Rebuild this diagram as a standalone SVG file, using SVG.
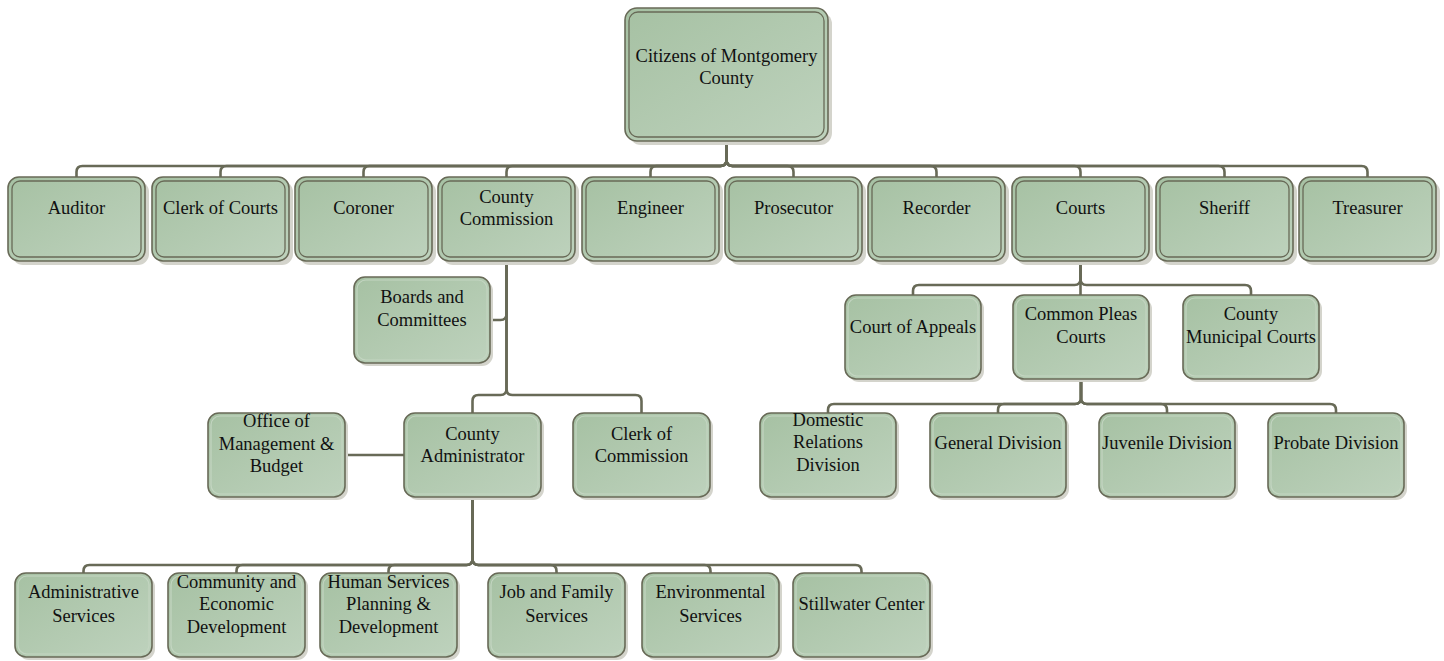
<svg xmlns="http://www.w3.org/2000/svg" width="1444" height="661" viewBox="0 0 1444 661">
<defs>
<linearGradient id="g" x1="0" y1="0" x2="1" y2="1">
<stop offset="0" stop-color="#a6c1a3"/>
<stop offset="1" stop-color="#bed2bd"/>
</linearGradient>
<style>
.sh{fill:#d4d4cc}
.bx{fill:url(#g);stroke:#686a57;stroke-width:1.6}
.in{fill:none;stroke:#686a57;stroke-width:1.3}
.hl{fill:none;stroke:#c3d5c1;stroke-width:1.2}
.c{fill:none;stroke:#686a57;stroke-width:2.6}
text{font-family:"Liberation Serif","Times New Roman",serif;font-size:18.5px;fill:#111;text-anchor:middle}
</style>
</defs>
<rect width="1444" height="661" fill="#fff"/>
<g id="connectors">
<path class="c" d="M726.5,141 V160 Q726.5,166 720.5,166 H82.5 Q76.5,166 76.5,172 V177"/>
<path class="c" d="M726.5,141 V160 Q726.5,166 720.5,166 H226.5 Q220.5,166 220.5,172 V177"/>
<path class="c" d="M726.5,141 V160 Q726.5,166 720.5,166 H369.5 Q363.5,166 363.5,172 V177"/>
<path class="c" d="M726.5,141 V160 Q726.5,166 720.5,166 H512.5 Q506.5,166 506.5,172 V177"/>
<path class="c" d="M726.5,141 V160 Q726.5,166 720.5,166 H656.5 Q650.5,166 650.5,172 V177"/>
<path class="c" d="M726.5,141 V160 Q726.5,166 732.5,166 H787.5 Q793.5,166 793.5,172 V177"/>
<path class="c" d="M726.5,141 V160 Q726.5,166 732.5,166 H930.5 Q936.5,166 936.5,172 V177"/>
<path class="c" d="M726.5,141 V160 Q726.5,166 732.5,166 H1074.5 Q1080.5,166 1080.5,172 V177"/>
<path class="c" d="M726.5,141 V160 Q726.5,166 732.5,166 H1218.5 Q1224.5,166 1224.5,172 V177"/>
<path class="c" d="M726.5,141 V160 Q726.5,166 732.5,166 H1361.5 Q1367.5,166 1367.5,172 V177"/>
<path class="c" d="M506.5,261 V314 Q506.5,320 500.5,320 H490"/>
<path class="c" d="M506.5,261 V389 Q506.5,395 500.5,395 H478.5 Q472.5,395 472.5,401 V413"/>
<path class="c" d="M506.5,261 V389 Q506.5,395 512.5,395 H635.5 Q641.5,395 641.5,401 V413"/>
<path class="c" d="M345,455 H404"/>
<path class="c" d="M472.5,497 V559 Q472.5,565 466.5,565 H89.5 Q83.5,565 83.5,571 V573"/>
<path class="c" d="M472.5,497 V559 Q472.5,565 466.5,565 H242.5 Q236.5,565 236.5,571 V573"/>
<path class="c" d="M472.5,497 V559 Q472.5,565 466.5,565 H394.5 Q388.5,565 388.5,571 V573"/>
<path class="c" d="M472.5,497 V559 Q472.5,565 478.5,565 H550.5 Q556.5,565 556.5,571 V573"/>
<path class="c" d="M472.5,497 V559 Q472.5,565 478.5,565 H704.5 Q710.5,565 710.5,571 V573"/>
<path class="c" d="M472.5,497 V559 Q472.5,565 478.5,565 H855.5 Q861.5,565 861.5,571 V573"/>
<path class="c" d="M1080.5,261 V279 Q1080.5,285 1074.5,285 H919 Q913,285 913,291 V295"/>
<path class="c" d="M1080.5,261 V295"/>
<path class="c" d="M1080.5,261 V279 Q1080.5,285 1086.5,285 H1245 Q1251,285 1251,291 V295"/>
<path class="c" d="M1081,379 V398 Q1081,404 1075,404 H834 Q828,404 828,410 V413"/>
<path class="c" d="M1081,379 V398 Q1081,404 1075,404 H1004 Q998,404 998,410 V413"/>
<path class="c" d="M1081,379 V398 Q1081,404 1087,404 H1161 Q1167,404 1167,410 V413"/>
<path class="c" d="M1081,379 V398 Q1081,404 1087,404 H1330 Q1336,404 1336,410 V413"/>
</g>
<g id="citizens">
<rect class="sh" x="629" y="12" width="203" height="133" rx="12"/>
<rect class="bx" x="625" y="8" width="203" height="133" rx="12"/>
<rect class="in" x="629" y="12" width="195" height="125" rx="9"/>
<text x="726.5" y="62">Citizens of Montgomery</text>
<text x="726.5" y="84">County</text>
</g>
<g id="auditor">
<rect class="sh" x="12" y="181" width="137" height="84" rx="11"/>
<rect class="bx" x="8" y="177" width="137" height="84" rx="11"/>
<rect class="in" x="12" y="181" width="129" height="76" rx="8"/>
<text x="76.5" y="214">Auditor</text>
</g>
<g id="clerk-of-courts">
<rect class="sh" x="156" y="181" width="137" height="84" rx="11"/>
<rect class="bx" x="152" y="177" width="137" height="84" rx="11"/>
<rect class="in" x="156" y="181" width="129" height="76" rx="8"/>
<text x="220.5" y="214">Clerk of Courts</text>
</g>
<g id="coroner">
<rect class="sh" x="299" y="181" width="137" height="84" rx="11"/>
<rect class="bx" x="295" y="177" width="137" height="84" rx="11"/>
<rect class="in" x="299" y="181" width="129" height="76" rx="8"/>
<text x="363.5" y="214">Coroner</text>
</g>
<g id="county-commission">
<rect class="sh" x="442" y="181" width="137" height="84" rx="11"/>
<rect class="bx" x="438" y="177" width="137" height="84" rx="11"/>
<rect class="in" x="442" y="181" width="129" height="76" rx="8"/>
<text x="506.5" y="203">County</text>
<text x="506.5" y="225">Commission</text>
</g>
<g id="engineer">
<rect class="sh" x="586" y="181" width="137" height="84" rx="11"/>
<rect class="bx" x="582" y="177" width="137" height="84" rx="11"/>
<rect class="in" x="586" y="181" width="129" height="76" rx="8"/>
<text x="650.5" y="214">Engineer</text>
</g>
<g id="prosecutor">
<rect class="sh" x="729" y="181" width="137" height="84" rx="11"/>
<rect class="bx" x="725" y="177" width="137" height="84" rx="11"/>
<rect class="in" x="729" y="181" width="129" height="76" rx="8"/>
<text x="793.5" y="214">Prosecutor</text>
</g>
<g id="recorder">
<rect class="sh" x="872" y="181" width="137" height="84" rx="11"/>
<rect class="bx" x="868" y="177" width="137" height="84" rx="11"/>
<rect class="in" x="872" y="181" width="129" height="76" rx="8"/>
<text x="936.5" y="214">Recorder</text>
</g>
<g id="courts">
<rect class="sh" x="1016" y="181" width="137" height="84" rx="11"/>
<rect class="bx" x="1012" y="177" width="137" height="84" rx="11"/>
<rect class="in" x="1016" y="181" width="129" height="76" rx="8"/>
<text x="1080.5" y="214">Courts</text>
</g>
<g id="sheriff">
<rect class="sh" x="1160" y="181" width="137" height="84" rx="11"/>
<rect class="bx" x="1156" y="177" width="137" height="84" rx="11"/>
<rect class="in" x="1160" y="181" width="129" height="76" rx="8"/>
<text x="1224.5" y="214">Sheriff</text>
</g>
<g id="treasurer">
<rect class="sh" x="1303" y="181" width="137" height="84" rx="11"/>
<rect class="bx" x="1299" y="177" width="137" height="84" rx="11"/>
<rect class="in" x="1303" y="181" width="129" height="76" rx="8"/>
<text x="1367.5" y="214">Treasurer</text>
</g>
<g id="boards-and-committees">
<rect class="sh" x="357" y="280" width="136" height="86" rx="11"/>
<rect class="bx" x="354" y="277" width="136" height="86" rx="11"/>
<rect class="hl" x="357" y="280" width="130" height="80" rx="9"/>
<text x="422" y="303">Boards and</text>
<text x="422" y="326">Committees</text>
</g>
<g id="office-of-management-budget">
<rect class="sh" x="211" y="416" width="137" height="84" rx="11"/>
<rect class="bx" x="208" y="413" width="137" height="84" rx="11"/>
<rect class="hl" x="211" y="416" width="131" height="78" rx="9"/>
<text x="276.5" y="427">Office of</text>
<text x="276.5" y="450">Management &amp;</text>
<text x="276.5" y="472">Budget</text>
</g>
<g id="county-administrator">
<rect class="sh" x="407" y="416" width="137" height="84" rx="11"/>
<rect class="bx" x="404" y="413" width="137" height="84" rx="11"/>
<rect class="hl" x="407" y="416" width="131" height="78" rx="9"/>
<text x="472.5" y="440">County</text>
<text x="472.5" y="462">Administrator</text>
</g>
<g id="clerk-of-commission">
<rect class="sh" x="576" y="416" width="137" height="84" rx="11"/>
<rect class="bx" x="573" y="413" width="137" height="84" rx="11"/>
<rect class="hl" x="576" y="416" width="131" height="78" rx="9"/>
<text x="641.5" y="440">Clerk of</text>
<text x="641.5" y="462">Commission</text>
</g>
<g id="court-of-appeals">
<rect class="sh" x="848" y="298" width="136" height="84" rx="11"/>
<rect class="bx" x="845" y="295" width="136" height="84" rx="11"/>
<rect class="hl" x="848" y="298" width="130" height="78" rx="9"/>
<text x="913" y="333">Court of Appeals</text>
</g>
<g id="common-pleas-courts">
<rect class="sh" x="1016" y="298" width="136" height="84" rx="11"/>
<rect class="bx" x="1013" y="295" width="136" height="84" rx="11"/>
<rect class="hl" x="1016" y="298" width="130" height="78" rx="9"/>
<text x="1081" y="320">Common Pleas</text>
<text x="1081" y="343">Courts</text>
</g>
<g id="county-municipal-courts">
<rect class="sh" x="1186" y="298" width="136" height="84" rx="11"/>
<rect class="bx" x="1183" y="295" width="136" height="84" rx="11"/>
<rect class="hl" x="1186" y="298" width="130" height="78" rx="9"/>
<text x="1251" y="320">County</text>
<text x="1251" y="343">Municipal Courts</text>
</g>
<g id="domestic-relations-division">
<rect class="sh" x="763" y="416" width="136" height="84" rx="11"/>
<rect class="bx" x="760" y="413" width="136" height="84" rx="11"/>
<rect class="hl" x="763" y="416" width="130" height="78" rx="9"/>
<text x="828" y="426">Domestic</text>
<text x="828" y="448">Relations</text>
<text x="828" y="471">Division</text>
</g>
<g id="general-division">
<rect class="sh" x="933" y="416" width="136" height="84" rx="11"/>
<rect class="bx" x="930" y="413" width="136" height="84" rx="11"/>
<rect class="hl" x="933" y="416" width="130" height="78" rx="9"/>
<text x="998" y="449">General Division</text>
</g>
<g id="juvenile-division">
<rect class="sh" x="1102" y="416" width="136" height="84" rx="11"/>
<rect class="bx" x="1099" y="413" width="136" height="84" rx="11"/>
<rect class="hl" x="1102" y="416" width="130" height="78" rx="9"/>
<text x="1167" y="449">Juvenile Division</text>
</g>
<g id="probate-division">
<rect class="sh" x="1271" y="416" width="136" height="84" rx="11"/>
<rect class="bx" x="1268" y="413" width="136" height="84" rx="11"/>
<rect class="hl" x="1271" y="416" width="130" height="78" rx="9"/>
<text x="1336" y="449">Probate Division</text>
</g>
<g id="administrative-services">
<rect class="sh" x="18" y="576" width="137" height="84" rx="11"/>
<rect class="bx" x="15" y="573" width="137" height="84" rx="11"/>
<rect class="hl" x="18" y="576" width="131" height="78" rx="9"/>
<text x="83.5" y="598">Administrative</text>
<text x="83.5" y="622">Services</text>
</g>
<g id="community-and-economic-development">
<rect class="sh" x="171" y="576" width="137" height="84" rx="11"/>
<rect class="bx" x="168" y="573" width="137" height="84" rx="11"/>
<rect class="hl" x="171" y="576" width="131" height="78" rx="9"/>
<text x="236.5" y="588">Community and</text>
<text x="236.5" y="610">Economic</text>
<text x="236.5" y="633">Development</text>
</g>
<g id="human-services-planning-development">
<rect class="sh" x="323" y="576" width="137" height="84" rx="11"/>
<rect class="bx" x="320" y="573" width="137" height="84" rx="11"/>
<rect class="hl" x="323" y="576" width="131" height="78" rx="9"/>
<text x="388.5" y="588">Human Services</text>
<text x="388.5" y="610">Planning &amp;</text>
<text x="388.5" y="633">Development</text>
</g>
<g id="job-and-family-services">
<rect class="sh" x="491" y="576" width="137" height="84" rx="11"/>
<rect class="bx" x="488" y="573" width="137" height="84" rx="11"/>
<rect class="hl" x="491" y="576" width="131" height="78" rx="9"/>
<text x="556.5" y="598">Job and Family</text>
<text x="556.5" y="622">Services</text>
</g>
<g id="environmental-services">
<rect class="sh" x="645" y="576" width="137" height="84" rx="11"/>
<rect class="bx" x="642" y="573" width="137" height="84" rx="11"/>
<rect class="hl" x="645" y="576" width="131" height="78" rx="9"/>
<text x="710.5" y="598">Environmental</text>
<text x="710.5" y="622">Services</text>
</g>
<g id="stillwater-center">
<rect class="sh" x="796" y="576" width="137" height="84" rx="11"/>
<rect class="bx" x="793" y="573" width="137" height="84" rx="11"/>
<rect class="hl" x="796" y="576" width="131" height="78" rx="9"/>
<text x="861.5" y="610">Stillwater Center</text>
</g>
</svg>
